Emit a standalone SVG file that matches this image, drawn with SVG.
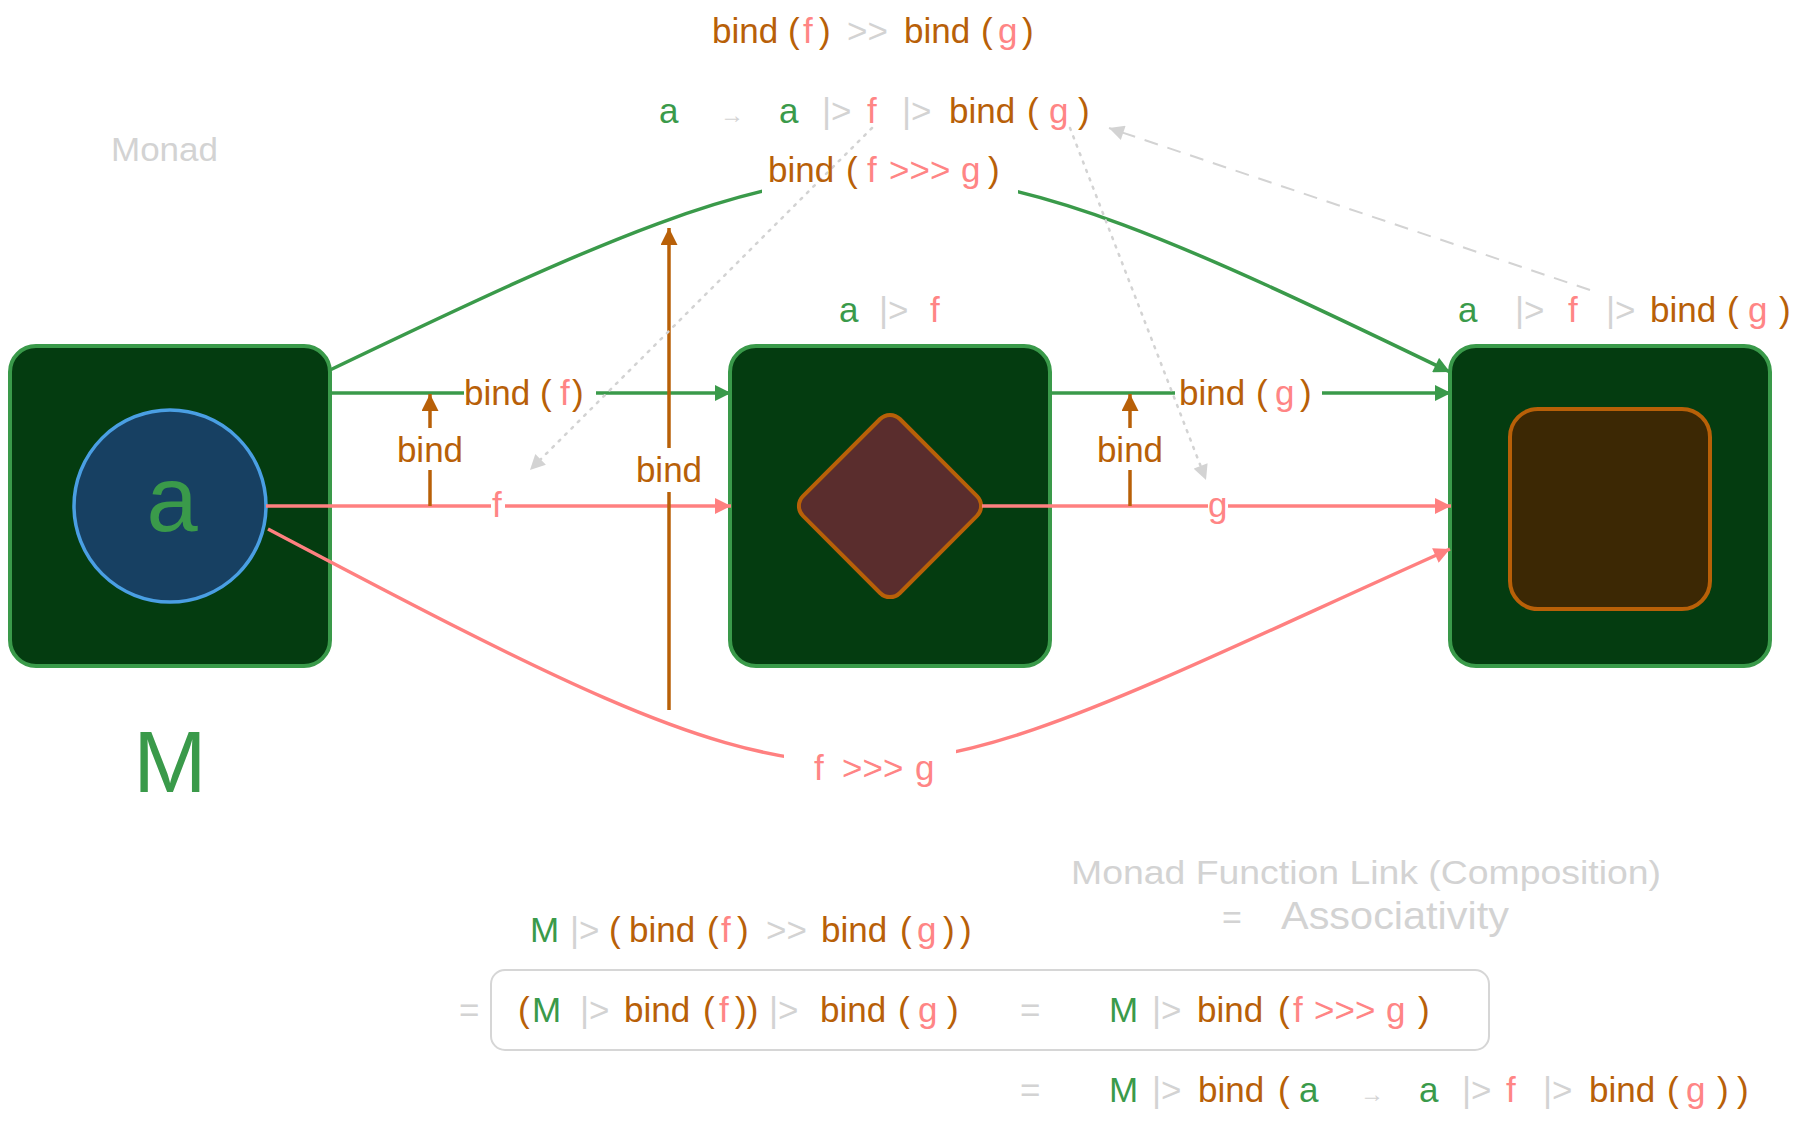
<svg xmlns="http://www.w3.org/2000/svg" width="1802" height="1121" viewBox="0 0 1802 1121">
<style>
.t{font-family:"Liberation Sans",Arial,sans-serif;font-size:35px}
.g{fill:#3a9a4a}.o{fill:#b86008}.p{fill:#ff8585}.y{fill:#d3d3d3}
.hw{font-family:"Liberation Sans",Arial,sans-serif;font-size:34px;fill:#d3d3d3}
.box{fill:#043c10;stroke:#3a9a4a;stroke-width:4}
.lg{fill:none;stroke:#3a9a4a;stroke-width:3.5}
.lp{fill:none;stroke:#ff8080;stroke-width:3.5}
.lo{fill:none;stroke:#b86008;stroke-width:3.5}
.dot{fill:none;stroke:#d3d3d3;stroke-width:2.5;stroke-dasharray:2 7;stroke-linecap:round}
.dash{fill:none;stroke:#d3d3d3;stroke-width:2;stroke-dasharray:14 10}
</style>
<defs>
<marker id="ag" viewBox="0 0 10 10" refX="10" refY="5" markerWidth="19" markerHeight="16" markerUnits="userSpaceOnUse" orient="auto"><path d="M0,0L10,5L0,10z" fill="#3a9a4a"/></marker>
<marker id="ap" viewBox="0 0 10 10" refX="10" refY="5" markerWidth="19" markerHeight="16" markerUnits="userSpaceOnUse" orient="auto"><path d="M0,0L10,5L0,10z" fill="#ff8080"/></marker>
<marker id="ao" viewBox="0 0 10 10" refX="10" refY="5" markerWidth="18" markerHeight="17" markerUnits="userSpaceOnUse" orient="auto"><path d="M0,0L10,5L0,10z" fill="#b86008"/></marker>
<marker id="ay" viewBox="0 0 10 10" refX="10" refY="5" markerWidth="17" markerHeight="15" markerUnits="userSpaceOnUse" orient="auto"><path d="M0,0L10,5L0,10z" fill="#d3d3d3"/></marker>
</defs>
<rect width="1802" height="1121" fill="#ffffff"/>

<g id="node-M">
<rect class="box" x="10" y="346" width="320" height="320" rx="26"/>
<circle cx="170" cy="506" r="96" fill="#174062" stroke="#4a9fe3" stroke-width="3.5"/>
<text class="t g" x="172" y="531" text-anchor="middle" style="font-size:92px">a</text>
<text class="t g" x="170" y="792" text-anchor="middle" style="font-size:88px">M</text>
</g>

<g id="node-mid">
<rect class="box" x="730" y="346" width="320" height="320" rx="26"/>
<rect x="821.5" y="437.5" width="137" height="137" rx="14" fill="#5a2d2d" stroke="#b86008" stroke-width="4" transform="rotate(45 890 506)"/>
</g>

<g id="node-right">
<rect class="box" x="1450" y="346" width="320" height="320" rx="26"/>
<rect x="1510" y="409" width="200" height="200" rx="28" fill="#3c2804" stroke="#b86008" stroke-width="4"/>
</g>

<g id="connectors">
<path class="lg" d="M330,370 C872,110 908,110 1450,372" marker-end="url(#ag)"/>
<path class="lp" d="M268,529 C885,855 845,820 1450,549" marker-end="url(#ap)"/>
<rect x="762" y="140" width="256" height="60" fill="#ffffff"/>
<rect x="784" y="740" width="172" height="60" fill="#ffffff"/>
<path class="lg" d="M330,393H464"/>
<path class="lg" d="M596,393H731" marker-end="url(#ag)"/>
<path class="lg" d="M1050,393H1175"/>
<path class="lg" d="M1322,393H1451" marker-end="url(#ag)"/>
<path class="lp" d="M266,506H491"/>
<path class="lp" d="M505,506H731" marker-end="url(#ap)"/>
<path class="lp" d="M982,506H1208"/>
<path class="lp" d="M1228,506H1451" marker-end="url(#ap)"/>
<path class="lo" d="M430,506V470"/>
<path class="lo" d="M430,428V394" marker-end="url(#ao)"/>
<path class="lo" d="M1130,506V470"/>
<path class="lo" d="M1130,428V394" marker-end="url(#ao)"/>
<path class="lo" d="M669,710V492"/>
<path class="lo" d="M669,448V228" marker-end="url(#ao)"/>
<path class="dot" d="M872,128L530,470" marker-end="url(#ay)"/>
<path class="dot" d="M1070,128L1206,480" marker-end="url(#ay)"/>
<path class="dash" d="M1590,290L1109,128" marker-end="url(#ay)"/>
</g>

<g id="labels">
<text class="t" y="43"><tspan class="o" x="712">bind</tspan><tspan class="o" x="788">(</tspan><tspan class="p" x="803">f</tspan><tspan class="o" x="819">)</tspan><tspan class="y" x="847">&gt;&gt;</tspan><tspan class="o" x="904">bind</tspan><tspan class="o" x="981">(</tspan><tspan class="p" x="998">g</tspan><tspan class="o" x="1022">)</tspan></text>

<text class="t" y="123"><tspan class="g" x="659">a</tspan><tspan class="y" x="720" style="font-size:24px">→</tspan><tspan class="g" x="779">a</tspan><tspan class="y" x="822">|&gt;</tspan><tspan class="p" x="867">f</tspan><tspan class="y" x="902">|&gt;</tspan><tspan class="o" x="949">bind</tspan><tspan class="o" x="1027">(</tspan><tspan class="p" x="1049">g</tspan><tspan class="o" x="1078">)</tspan></text>

<text class="t" y="182"><tspan class="o" x="768">bind</tspan><tspan class="o" x="846">(</tspan><tspan class="p" x="867">f</tspan><tspan class="p" x="889">&gt;&gt;&gt;</tspan><tspan class="p" x="961">g</tspan><tspan class="o" x="988">)</tspan></text>

<text class="t" y="322"><tspan class="g" x="839">a</tspan><tspan class="y" x="879">|&gt;</tspan><tspan class="p" x="930">f</tspan></text>
<text class="t" y="322"><tspan class="g" x="1458">a</tspan><tspan class="y" x="1515">|&gt;</tspan><tspan class="p" x="1568">f</tspan><tspan class="y" x="1606">|&gt;</tspan><tspan class="o" x="1650">bind</tspan><tspan class="o" x="1727">(</tspan><tspan class="p" x="1748">g</tspan><tspan class="o" x="1779">)</tspan></text>

<text class="t" y="405"><tspan class="o" x="464">bind</tspan><tspan class="o" x="540">(</tspan><tspan class="p" x="560">f</tspan><tspan class="o" x="572">)</tspan></text>
<text class="t" y="405"><tspan class="o" x="1179">bind</tspan><tspan class="o" x="1256">(</tspan><tspan class="p" x="1275">g</tspan><tspan class="o" x="1300">)</tspan></text>
<text class="t p" x="492" y="517">f</text>
<text class="t p" x="1208" y="517">g</text>
<text class="t o" x="430" y="462" text-anchor="middle">bind</text>
<text class="t o" x="1130" y="462" text-anchor="middle">bind</text>
<text class="t o" x="669" y="482" text-anchor="middle">bind</text>
<text class="t" y="780"><tspan class="p" x="814">f</tspan><tspan class="p" x="842">&gt;&gt;&gt;</tspan><tspan class="p" x="915">g</tspan></text>

<text class="hw" x="111" y="161" textLength="107" lengthAdjust="spacingAndGlyphs">Monad</text>
<text class="hw" x="1071" y="884" textLength="590" lengthAdjust="spacingAndGlyphs">Monad Function Link (Composition)</text>
<text class="hw" y="929"><tspan x="1222">=</tspan></text>
<text class="hw" x="1281" y="929" textLength="228" lengthAdjust="spacingAndGlyphs" style="font-size:38px">Associativity</text>

<text class="t" y="942"><tspan class="g" x="530">M</tspan><tspan class="y" x="570">|&gt;</tspan><tspan class="o" x="609">(</tspan><tspan class="o" x="629">bind</tspan><tspan class="o" x="707">(</tspan><tspan class="p" x="721">f</tspan><tspan class="o" x="737">)</tspan><tspan class="y" x="766">&gt;&gt;</tspan><tspan class="o" x="821">bind</tspan><tspan class="o" x="900">(</tspan><tspan class="p" x="917">g</tspan><tspan class="o" x="943">)</tspan><tspan class="o" x="960">)</tspan></text>

<rect x="491" y="970" width="998" height="80" rx="14" fill="none" stroke="#d6d6d6" stroke-width="2"/>
<text class="t" y="1022"><tspan class="y" x="459">=</tspan><tspan class="o" x="518">(</tspan><tspan class="g" x="532">M</tspan><tspan class="y" x="580">|&gt;</tspan><tspan class="o" x="624">bind</tspan><tspan class="o" x="703">(</tspan><tspan class="p" x="719">f</tspan><tspan class="o" x="735">))</tspan><tspan class="y" x="769">|&gt;</tspan><tspan class="o" x="820">bind</tspan><tspan class="o" x="898">(</tspan><tspan class="p" x="918">g</tspan><tspan class="o" x="947">)</tspan><tspan class="y" x="1020">=</tspan><tspan class="g" x="1109">M</tspan><tspan class="y" x="1152">|&gt;</tspan><tspan class="o" x="1197">bind</tspan><tspan class="o" x="1278">(</tspan><tspan class="p" x="1293">f</tspan><tspan class="p" x="1314">&gt;&gt;&gt;</tspan><tspan class="p" x="1386">g</tspan><tspan class="o" x="1418">)</tspan></text>

<text class="t" y="1102"><tspan class="y" x="1020">=</tspan><tspan class="g" x="1109">M</tspan><tspan class="y" x="1152">|&gt;</tspan><tspan class="o" x="1198">bind</tspan><tspan class="o" x="1278">(</tspan><tspan class="g" x="1299">a</tspan><tspan class="y" x="1360" style="font-size:24px">→</tspan><tspan class="g" x="1419">a</tspan><tspan class="y" x="1462">|&gt;</tspan><tspan class="p" x="1506">f</tspan><tspan class="y" x="1543">|&gt;</tspan><tspan class="o" x="1589">bind</tspan><tspan class="o" x="1667">(</tspan><tspan class="p" x="1686">g</tspan><tspan class="o" x="1717">)</tspan><tspan class="o" x="1737">)</tspan></text>
</g>
</svg>
